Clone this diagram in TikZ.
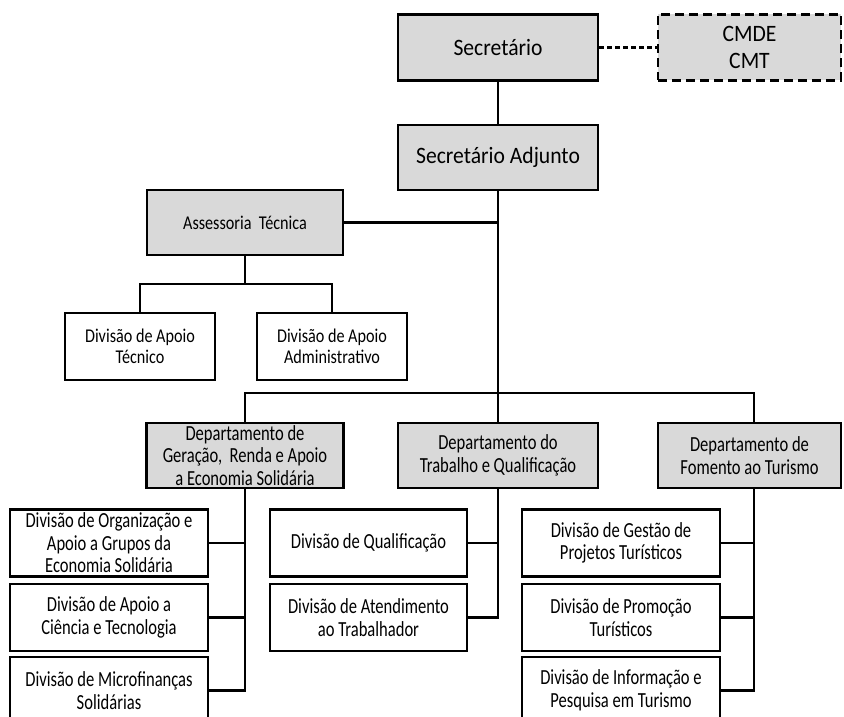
\documentclass[tikz,border=0pt]{standalone}
\usepackage{fontspec}
\setmainfont{Carlito}
\newfontfamily\topfont[FakeStretch=0.92]{Carlito}
\newfontfamily\midfont[FakeStretch=0.83]{Carlito}
\newfontfamily\lowfont[FakeStretch=0.77]{Carlito}
\begin{document}
\begin{tikzpicture}[x=1pt,y=-1pt,
  box/.style={draw=black,line width=2.8pt,fill=white,align=center,inner sep=2pt,
    font=\lowfont\fontsize{21.5}{22.5}\selectfont},
  gbox/.style={box,fill=boxgray},
  midbox/.style={font=\midfont\fontsize{19.5}{20.5}\selectfont},
  topbox/.style={gbox,font=\topfont\fontsize{23.5}{27}\selectfont},
  conn/.style={line width=2.8pt,line cap=rect},
]
\definecolor{boxgray}{HTML}{D9D9D9}
\useasboundingbox (0,0) rectangle (844,717);
\begin{scope}
\clip (0,0) rectangle (844,717);
% top level
\node[topbox,minimum width=200,minimum height=66] (sec) at (498,47.5) {Secretário};
\node[topbox,dash pattern=on 9pt off 5pt,minimum width=183,minimum height=66] (cmde) at (749.5,47.5) {CMDE\\CMT};
\node[topbox,minimum width=200,minimum height=65] (adj) at (498,157.5) {Secretário Adjunto};
\node[gbox,midbox,minimum width=196,minimum height=65] (ass) at (245,222.5) {Assessoria\ \ Técnica};
\node[box,midbox,minimum width=150,minimum height=67] (dtec) at (140,346.5) {Divisão de Apoio\\Técnico};
\node[box,midbox,minimum width=150,minimum height=67] (dadm) at (332,346.5) {Divisão de Apoio\\Administrativo};
% departments
\node[gbox,minimum width=197,minimum height=65] (dep1) at (245,455.5) {Departamento de\\Geração,\ \ Renda e Apoio\\a Economia Solidária};
\node[gbox,minimum width=200,minimum height=65] (dep2) at (498,455.5) {Departamento do\\Trabalho e Qualificação};
\node[gbox,minimum width=183,minimum height=65] (dep3) at (749.5,455.5) {Departamento de\\Fomento ao Turismo};
% left divisions
\node[box,minimum width=198,minimum height=67] (l1) at (109,543) {Divisão de Organização e\\Apoio a Grupos da\\Economia Solidária};
\node[box,minimum width=198,minimum height=67] (l2) at (109,617.5) {Divisão de Apoio a\\Ciência e Tecnologia};
\node[box,minimum width=198,minimum height=67] (l3) at (109,690.5) {Divisão de Microfinanças\\Solidárias};
% middle divisions
\node[box,minimum width=197,minimum height=67] (m1) at (368.5,543) {Divisão de Qualificação};
\node[box,minimum width=197,minimum height=67] (m2) at (368.5,617.5) {Divisão de Atendimento\\ao Trabalhador};
% right divisions
\node[box,minimum width=198,minimum height=67] (r1) at (621,543) {Divisão de Gestão de\\Projetos Turísticos};
\node[box,minimum width=198,minimum height=67] (r2) at (621,617.5) {Divisão de Promoção\\Turísticos};
\node[box,minimum width=198,minimum height=67] (r3) at (621,690.5) {Divisão de Informação e\\Pesquisa em Turismo};
% helper coordinates
\coordinate (bar) at (498,393);
\coordinate (axl) at (245,284);
\coordinate (rc) at (754,488);
% connectors
\draw[conn,dash pattern=on 5pt off 3pt,line cap=butt] (sec.east) -- (cmde.west);
\draw[conn] (sec.south) -- (adj.north);
\draw[conn] (adj.south) -- (bar);
\draw[conn] (ass.east) -- (ass.east -| adj.south);
\draw[conn] (ass.south) -- (axl);
\draw[conn] (dtec.north) |- (axl) -| (dadm.north);
\draw[conn] (dep1.north) |- (bar) -| (rc |- dep3.north);
\draw[conn] (dep2.north) -- (bar);
% left column
\draw[conn] (dep1.south) -- (dep1.south |- l3.east);
\draw[conn] (l1.east) -- (l1.east -| dep1.south);
\draw[conn] (l2.east) -- (l2.east -| dep1.south);
\draw[conn] (l3.east) -- (l3.east -| dep1.south);
% middle column
\draw[conn] (dep2.south) -- (dep2.south |- m2.east);
\draw[conn] (m1.east) -- (m1.east -| dep2.south);
\draw[conn] (m2.east) -- (m2.east -| dep2.south);
% right column
\draw[conn] (rc) -- (rc |- r3.east);
\draw[conn] (r1.east) -- (r1.east -| rc);
\draw[conn] (r2.east) -- (r2.east -| rc);
\draw[conn] (r3.east) -- (r3.east -| rc);
\end{scope}
\end{tikzpicture}
\end{document}
